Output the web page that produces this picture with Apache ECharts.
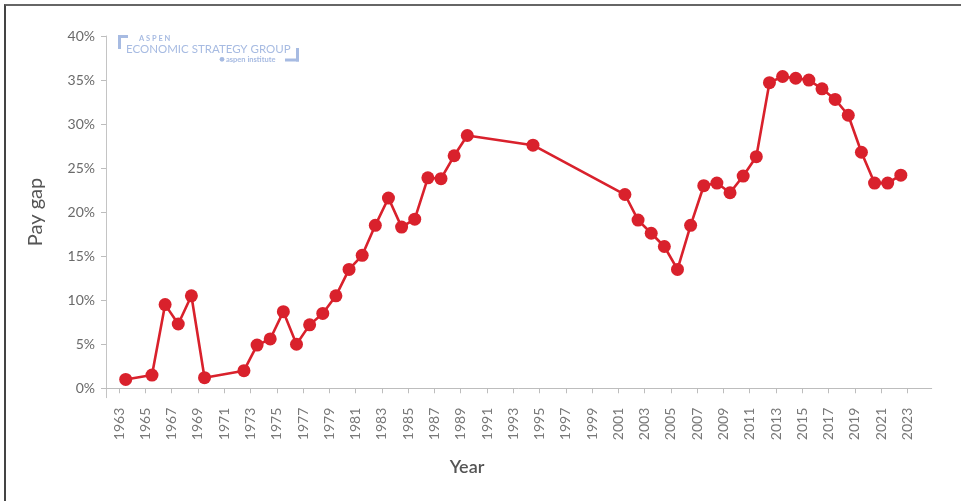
<!DOCTYPE html>
<html>
<head>
<meta charset="utf-8">
<style>
  html, body { margin: 0; padding: 0; background: #fff; }
  #chart { width: 961px; height: 501px; }
  #frame { position: absolute; left: 4px; top: 4px; right: 0; bottom: 0;
           border-top: 2px solid #666; border-left: 2px solid #444; pointer-events: none; }
</style>
<script src="https://cdn.jsdelivr.net/npm/echarts@6/dist/echarts.min.js"></script>
</head>
<body>
<div id="chart"></div>
<div id="frame"></div>
<script>
// Gender pay gap by year (percent)
const years = [1963, 1965, 1966, 1967, 1968, 1969, 1972, 1973, 1974, 1975, 1976, 1977, 1978, 1979,
  1980, 1981, 1982, 1983, 1984, 1985, 1986, 1987, 1988, 1989, 1994, 2001, 2002, 2003, 2004, 2005,
  2006, 2007, 2008, 2009, 2010, 2011, 2012, 2013, 2014, 2015, 2016, 2017, 2018, 2019, 2020, 2021, 2022];
const payGap = [1.0, 1.5, 9.5, 7.3, 10.5, 1.2, 2.0, 4.9, 5.6, 8.7, 5.0, 7.2, 8.5, 10.5,
  13.5, 15.1, 18.5, 21.6, 18.3, 19.2, 23.9, 23.8, 26.4, 28.7, 27.6, 22.0, 19.1, 17.6, 16.1, 13.5,
  18.5, 23.0, 23.3, 22.2, 24.1, 26.3, 34.7, 35.4, 35.2, 35.0, 34.0, 32.8, 31.0, 26.8, 23.3, 23.3, 24.2];
const yearTicks = [];
for (let y = 1963; y <= 2023; y += 2) yearTicks.push(y);
const pctTicks = [0, 5, 10, 15, 20, 25, 30, 35, 40];

const FONT = 'Lato, "Open Sans", sans-serif';
const LOGO = '#a7bbe2';
const RED = '#d9212c';

// each observation sits in the middle of its year
const points = years.map((y, i) => [y + 0.5, payGap[i]]);

const chart = echarts.init(document.getElementById('chart'), null, { renderer: 'canvas' });
chart.setOption({
  animation: false,
  grid: { left: 106, right: 29.3, top: 36, bottom: 103.3, containLabel: false },
  xAxis: {
    type: 'value', min: 1962, max: 2024.85,
    axisLine: { show: true, lineStyle: { color: '#bdbdbd', width: 1 } },
    axisTick: { show: true, customValues: yearTicks, length: 5, lineStyle: { color: '#bdbdbd' } },
    axisLabel: { customValues: yearTicks, rotate: 90, margin: 10, color: '#777',
      fontFamily: FONT, fontSize: 14, formatter: v => String(v) },
    splitLine: { show: false }
  },
  yAxis: {
    type: 'value', min: -1.07, max: 40,
    axisLine: { show: true, lineStyle: { color: '#c4c4c4', width: 1 } },
    axisTick: { show: true, customValues: pctTicks, length: 5, lineStyle: { color: '#bdbdbd' } },
    axisLabel: { customValues: pctTicks, margin: 11, color: '#6a6a6a',
      fontFamily: FONT, fontSize: 14, formatter: v => v + '%' },
    splitLine: { show: false }
  },
  series: [{
    type: 'line', data: points,
    symbol: 'circle', symbolSize: 13,
    lineStyle: { color: RED, width: 2.6 },
    itemStyle: { color: RED },
    z: 3
  }],
  graphic: [
    // axis titles
    { type: 'text', x: 36, y: 212, rotation: Math.PI / 2,
      style: { text: 'Pay gap', fill: '#555', font: '20px ' + FONT, align: 'center', verticalAlign: 'middle' } },
    { type: 'text', x: 467, y: 467,
      style: { text: 'Year', fill: '#555', font: '600 18px ' + FONT, align: 'center', verticalAlign: 'middle' } },
    // brand mark
    { type: 'rect', shape: { x: 118, y: 35, width: 3, height: 14 }, style: { fill: LOGO } },
    { type: 'rect', shape: { x: 118, y: 35, width: 10, height: 3 }, style: { fill: LOGO } },
    { type: 'rect', shape: { x: 296, y: 48, width: 3, height: 13.5 }, style: { fill: LOGO } },
    { type: 'rect', shape: { x: 285, y: 58.5, width: 14, height: 3 }, style: { fill: LOGO } },
    { type: 'text', x: 139, y: 38.5,
      style: { text: 'A S P E N', fill: LOGO, font: 'bold 7.5px ' + FONT, verticalAlign: 'middle' } },
    { type: 'text', x: 126, y: 49,
      style: { text: 'ECONOMIC STRATEGY GROUP', fill: LOGO, font: '11.5px ' + FONT, verticalAlign: 'middle' } },
    { type: 'circle', shape: { cx: 222, cy: 59.3, r: 2.4 }, style: { fill: LOGO } },
    { type: 'text', x: 226, y: 59.5,
      style: { text: 'aspen institute', fill: LOGO, font: 'bold 7.5px ' + FONT, verticalAlign: 'middle' } }
  ]
});
</script>
</body>
</html>
